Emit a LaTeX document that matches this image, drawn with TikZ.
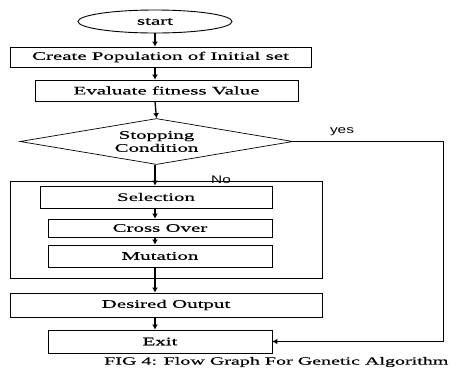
\documentclass[tikz,border=0pt]{standalone}
\usepackage{fontspec}
\setmainfont{Liberation Serif}[FakeStretch=1.82,FakeBold=0.45]
\newfontfamily\yesfont{Liberation Sans}[FakeStretch=1.4]
\usetikzlibrary{shapes.geometric,arrows.meta}
\tikzset{
  flowbox/.style={draw,line width=0.9pt,inner sep=0pt,font=\fontsize{11.5}{13.5}\selectfont},
  termbox/.style={flowbox,ellipse},
  testbox/.style={flowbox,diamond,aspect=5.9,line width=0.7pt,align=center,font=\fontsize{11.5}{13}\selectfont},
  arr/.style={line width=1.3pt,-{Latex[length=5pt,width=6pt]}},
}
\begin{document}
\begin{tikzpicture}[x=1pt,y=-1pt]
\useasboundingbox (0,0) rectangle (456,368);
% boxes
\node (start)[termbox,minimum width=154pt,minimum height=23pt] at (155,21.5){start};
\node (create)[flowbox,minimum width=301pt,minimum height=20pt] at (160.5,57){Create Population of Initial set};
\node (eval)[flowbox,minimum width=263pt,minimum height=21pt] at (166.5,90.5){Evaluate fitness Value};
\node (stop)[testbox,minimum width=273pt,minimum height=46pt] at (156.5,141.5){Stopping\\Condition};
\node (loop)[draw,line width=0.8pt,minimum width=312pt,minimum height=97pt] at (166,229.5){};
\node (select)[flowbox,minimum width=232pt,minimum height=22pt] at (156,197){Selection};
\node (cross)[flowbox,minimum width=224pt,minimum height=18pt] at (160,228){Cross Over};
\node (mutate)[flowbox,minimum width=224pt,minimum height=22pt] at (160,256){Mutation};
\node (output)[flowbox,minimum width=312pt,minimum height=24pt] at (166,305){Desired Output};
\node (exit)[flowbox,minimum width=224pt,minimum height=23pt] at (160,341.5){Exit};
% labels
\node (yes)[font=\yesfont\fontsize{11}{13}\selectfont] at (342,132){yes};
\node (no)[font=\yesfont\fontsize{11}{13}\selectfont] at (221,180){No};
\node (cap)[anchor=west,inner sep=0pt,font=\fontsize{11}{13}\selectfont] at (104,362){FIG 4: Flow Graph For Genetic Algorithm};
% arrows
\draw[arr] (start.south) -- (start.south |- create.north);
\draw[arr] (start.south |- create.south) -- (start.south |- eval.north);
\draw[arr] (start.south |- eval.south) -- (stop.north);
\draw[arr] (start.south |- stop.south) -- (start.south |- select.north);
\draw[arr] (start.south |- select.south) -- (start.south |- cross.north);
\draw[arr] (start.south |- cross.south) -- (start.south |- mutate.north);
\draw[arr] (start.south |- mutate.south) -- (start.south |- output.north);
\draw[arr] (start.south |- output.south) -- (start.south |- exit.north);
\coordinate (turn) at (443,341.5);
\draw[line width=1pt,-{Latex[length=5pt,width=6pt]}] (stop.east) -| (turn) -- (exit.east);
\end{tikzpicture}
\end{document}
